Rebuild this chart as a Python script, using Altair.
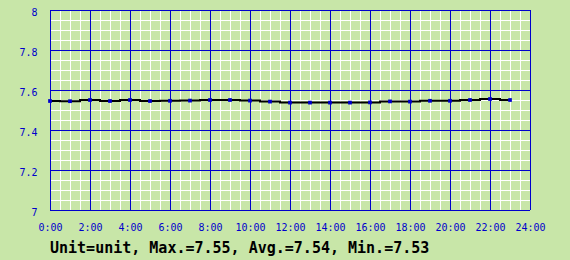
import altair as alt
import pandas as pd

# ---- data ----
hours = list(range(24))
values = [7.545, 7.544, 7.550, 7.545, 7.550, 7.545, 7.546, 7.547,
          7.550, 7.550, 7.547, 7.542, 7.537, 7.537, 7.537, 7.537,
          7.538, 7.543, 7.542, 7.546, 7.546, 7.550, 7.555, 7.550]
x_major = [0, 2, 4, 6, 8, 10, 12, 14, 16, 18, 20, 22, 24]
x_minor = [i * 0.5 for i in range(49)]
y_major = [7.0, 7.2, 7.4, 7.6, 7.8, 8.0]
y_minor = [7 + i * 0.05 for i in range(21)]
title_text = "Unit=unit, Max.=7.55, Avg.=7.54, Min.=7.53"

BG = "#c8e6a8"
BLUE = "#0000cc"
FONT = "DejaVu Sans Mono"

df = pd.DataFrame({"h": hours, "v": values})
xs = alt.Scale(domain=[0, 24], nice=False, zero=False)
ys = alt.Scale(domain=[7, 8], nice=False, zero=False)

xaxis = alt.Axis(values=x_major, labelExpr="datum.value + ':00'", grid=False,
                 domain=False, ticks=False, labelPadding=12, title=None,
                 labelFont=FONT, labelFontSize=10, labelColor=BLUE,
                 labelBaseline="top", labelFlush=False, labelOverlap=False)
yaxis = alt.Axis(values=y_major, format="~g", grid=False, domain=False,
                 ticks=False, labelPadding=13, title=None, labelFont=FONT,
                 labelFontSize=10, labelColor=BLUE, labelBaseline="middle",
                 labelOffset=2, labelFlush=False, labelOverlap=False)

vminor = alt.Chart(pd.DataFrame({"x": x_minor})).mark_rule(
    color="white", strokeWidth=1, xOffset=0.5
).encode(x=alt.X("x:Q", scale=xs, axis=xaxis))
hminor = alt.Chart(pd.DataFrame({"y": y_minor})).mark_rule(
    color="white", strokeWidth=1, yOffset=0.5
).encode(y=alt.Y("y:Q", scale=ys, axis=yaxis))
vmajor = alt.Chart(pd.DataFrame({"x": x_major})).mark_rule(
    color=BLUE, strokeWidth=1, xOffset=0.5
).encode(x=alt.X("x:Q", scale=xs, axis=xaxis))
hmajor = alt.Chart(pd.DataFrame({"y": y_major})).mark_rule(
    color=BLUE, strokeWidth=1, yOffset=0.5
).encode(y=alt.Y("y:Q", scale=ys, axis=yaxis))

line = alt.Chart(df).mark_line(interpolate="step", color="black", strokeWidth=2).encode(
    x=alt.X("h:Q", scale=xs, axis=xaxis),
    y=alt.Y("v:Q", scale=ys, axis=yaxis),
)
pts = alt.Chart(df).mark_square(color=BLUE, size=14, opacity=1).encode(
    x=alt.X("h:Q", scale=xs, axis=xaxis),
    y=alt.Y("v:Q", scale=ys, axis=yaxis),
)

chart = alt.layer(vminor, hminor, vmajor, hmajor, line, pts).properties(
    width=480, height=200,
    autosize=alt.AutoSizeParams(type="none"),
    padding={"left": 50, "top": 10, "right": 40, "bottom": 50},
    background=BG,
    title=alt.TitleParams(title_text, orient="bottom", anchor="start", frame="group",
                          font=FONT, fontSize=15, fontWeight="bold", color="black",
                          offset=9, baseline="top"),
).configure_view(fill=BG, stroke=None)

chart.save("out.html", embed_options={"renderer": "svg", "actions": False})
